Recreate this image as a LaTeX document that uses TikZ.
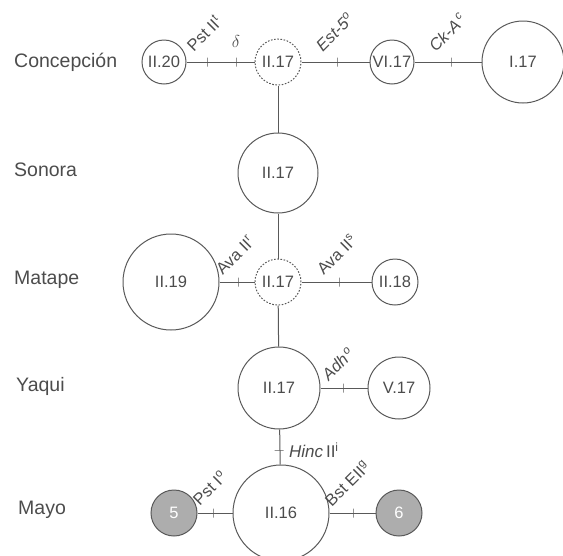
\documentclass[tikz,border=0pt]{standalone}
\usepackage{fontspec}
\setmainfont{Liberation Sans}
\begin{document}
\begin{tikzpicture}[x=1pt,y=-1pt,
  ink/.style={draw=black!65, line width=1pt},
  hap/.style={circle, ink, inner sep=0pt, text=black!70, font=\fontsize{16.5}{18}\selectfont},
  missing/.style={hap, dash pattern=on 1.6pt off 1.6pt},
  shaded/.style={hap, fill=black!32, text=white},
  row/.style={anchor=west, inner sep=0pt, text=black!70, font=\fontsize{19.5}{22}\selectfont},
  conn/.style={ink},
  tickv/.style={draw=black!65, line width=1pt, minimum width=0pt, minimum height=9pt, inner sep=0pt, outer sep=0pt},
  tickh/.style={draw=black!65, line width=1pt, minimum width=9pt, minimum height=0pt, inner sep=0pt, outer sep=0pt},
  mut/.style={anchor=south west, rotate=45, inner sep=0pt, text=black!70, font=\fontsize{16.5}{18}\selectfont}
]
\useasboundingbox (0,0) rectangle (563,555);
\begin{scope}
\clip (0,0) rectangle (563,555);
% row labels
\node[row] (lc) at (14,62) {Concepción};
\node[row] (ls) at (14,170) {Sonora};
\node[row] (lm) at (14,280) {Matape};
\node[row] (ly) at (16,386) {Yaqui};
\node[row] (lmy) at (18,510) {Mayo};
% Concepcion
\node[hap, minimum size=44pt] (c1) at (164,62) {II.20};
\node[missing, minimum size=46pt] (c2) at (278,62) {II.17};
\node[hap, minimum size=44pt] (c3) at (392,62) {VI.17};
\node[hap, minimum size=82pt] (c4) at (523,62) {I.17};
% Sonora
\node[hap, minimum size=80pt] (s1) at (278,173) {II.17};
% Matape
\node[hap, minimum size=96pt] (m1) at (171,282) {II.19};
\node[missing, minimum size=46pt] (m2) at (278,282) {II.17};
\node[hap, minimum size=46pt] (m3) at (395,282) {II.18};
% Yaqui
\node[hap, minimum size=82pt] (y1) at (279,388) {II.17};
\node[hap, minimum size=62pt] (y2) at (399,388) {V.17};
% Mayo
\node[shaded, minimum size=46pt] (a1) at (174,513) {5};
\node[hap, minimum size=96pt] (a2) at (281,513) {II.16};
\node[shaded, minimum size=46pt] (a3) at (399,513) {6};
% connectors
\draw[conn] (c1) -- (c2);
\draw[conn] (c2) -- (c3);
\draw[conn] (c3) -- (c4);
\draw[conn] (c2) -- (s1);
\draw[conn] (s1) -- (m2);
\draw[conn] (m1) -- (m2);
\draw[conn] (m2) -- (m3);
\draw[conn] (m2) -- (y1);
\draw[conn] (y1) -- (y2);
\draw[conn] (y1) -- (a2);
\draw[conn] (a1) -- (a2);
\draw[conn] (a2) -- (a3);
% ticks
\node[tickv] (t1) at (207,62) {};
\node[tickv] (t2) at (236,62) {};
\node[tickv] (t3) at (337,62) {};
\node[tickv] (t4) at (451,62) {};
\node[tickv] (t5) at (238,282) {};
\node[tickv] (t6) at (339,282) {};
\node[tickv] (t7) at (343,388) {};
\node[tickh] (t8) at (279,450) {};
\node[tickv] (t9) at (213,513) {};
\node[tickv] (t10) at (353,513) {};
% mutation labels
\node[mut] (l1) at (194,53) {Pst II\textsuperscript{t}};
\node[inner sep=0pt, text=black!70, font=\fontsize{18}{20}\selectfont] (l2) at (236,41) {$\delta$};
\node[mut] (l3) at (323,53) {\itshape Est-5\textsuperscript{o}};
\node[mut] (l4) at (436,53) {\itshape Ck-A\textsuperscript{\,c}};
\node[mut] (l5) at (223,276) {Ava II\textsuperscript{r}};
\node[mut] (l6) at (324,276) {Ava II\textsuperscript{s}};
\node[mut] (l7) at (329,382) {\itshape Adh\textsuperscript{\,o}};
\node[anchor=west, inner sep=0pt, text=black!70, font=\fontsize{17}{19}\selectfont] (l8) at (289,450) {\textit{Hinc}\,II\textsuperscript{i}};
\node[mut] (l9) at (200,507) {Pst I\textsuperscript{o}};
\node[mut] (l10) at (332,508) {Bst EII\textsuperscript{g}};
\end{scope}
\end{tikzpicture}
\end{document}
